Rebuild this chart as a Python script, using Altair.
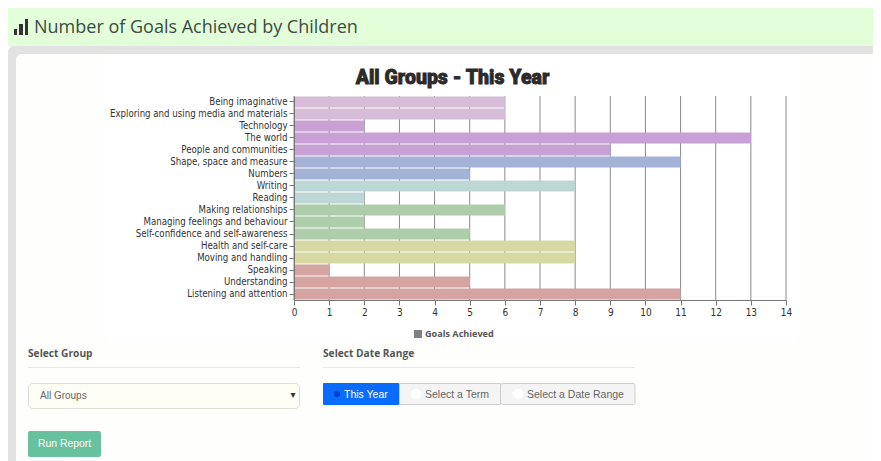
import altair as alt
import pandas as pd

categories = ["Being imaginative", "Exploring and using media and materials", "Technology", "The world",
              "People and communities", "Shape, space and measure", "Numbers", "Writing", "Reading",
              "Making relationships", "Managing feelings and behaviour", "Self-confidence and self-awareness",
              "Health and self-care", "Moving and handling", "Speaking", "Understanding", "Listening and attention"]
values = [6, 6, 2, 13, 9, 11, 5, 8, 2, 6, 2, 5, 8, 8, 1, 5, 11]
bar_colors = ["#d7bdd8", "#d7bdd8", "#c9a0d6", "#c9a0d6", "#c9a0d6", "#a3b3d8", "#a3b3d8", "#bdd7d6", "#bdd7d6",
              "#aecdab", "#aecdab", "#aecdab", "#d8d8a2", "#d8d8a2", "#d6a3a3", "#d6a3a3", "#d6a3a3"]
x_ticks = list(range(15))

PW, PH = 492, 204
OX, OY = 294, 96   # plot origin in window pixels
TOTAL_W, TOTAL_H = 865, 453

df = pd.DataFrame({"cat": categories, "val": values, "col": bar_colors})
one = alt.Data(values=[{"a": 1}])


def rect(x0, y0, x1, y1, fill, stroke=None, r=0, sw=1):
    kw = dict(fill=fill, cornerRadius=r)
    if stroke:
        kw.update(stroke=stroke, strokeWidth=sw)
    return alt.Chart(one).mark_rect(**kw).encode(
        x=alt.value(x0 - OX), x2=alt.value(x1 - OX), y=alt.value(y0 - OY), y2=alt.value(y1 - OY))


def label(x, y, s, size=11, color="#444444", font="Open Sans", weight="normal", align="left", **extra):
    return alt.Chart(one).mark_text(text=s, fontSize=size, color=color, font=font, fontWeight=weight,
                                    align=align, baseline="middle", **extra).encode(
        x=alt.value(x - OX), y=alt.value(y - OY))


def circle(x, y, size, color):
    return alt.Chart(one).mark_point(filled=True, size=size, color=color, opacity=1).encode(
        x=alt.value(x - OX), y=alt.value(y - OY))


chrome = [
    rect(8, 8, 890, 46, "#e2ffd9"),
    rect(8, 46, 890, 470, "#e2e2e2", r=6),
    rect(16, 54, 890, 470, "#feffFc", r=6),
    rect(106, 55, 798, 342, "#ffffff"),
    rect(14, 29, 17, 35, "#333333"),
    rect(19, 24, 23, 35, "#333333"),
    rect(25, 19, 28, 35, "#333333"),
    label(34, 28, "Number of Goals Achieved by Children", size=18, color="#3d4a45"),
    label(452.5, 77.5, "All Groups - This Year", size=19.5, color="#2a2a2a", font="Roboto",
          weight=900, align="center", stroke="#2a2a2a", strokeWidth=0.8),
    rect(414, 330, 422, 338, "#808080"),
    label(425, 334, "Goals Achieved", size=9.1, color="#555555", weight="bold"),
    label(28, 354, "Select Group", size=10.2, color="#555555", weight="bold"),
    rect(28, 367, 300, 368, "#e8e8e8"),
    rect(28.5, 383.5, 299.5, 408.5, "#fffef5", "#dddddd", r=4),
    label(40, 396, "All Groups", size=10, color="#666666", font="Liberation Sans"),
    label(293, 395, "▾", size=10, color="#333333", align="center", font="DejaVu Sans"),
    rect(28, 431, 101, 457, "#66c19c", r=2),
    label(64.5, 444, "Run Report", size=10.4, color="#ffffff", font="Liberation Sans", align="center"),
    label(323, 354, "Select Date Range", size=10.2, color="#555555", weight="bold"),
    rect(323, 367, 635, 368, "#e8e8e8"),
    rect(399.5, 383.5, 500.5, 404.5, "#f4f4f4", "#cccccc"),
    rect(500.5, 383.5, 635, 404.5, "#f4f4f4", "#cccccc", r=2),
    rect(323, 383, 399, 405, "#0a6cff", r=1),
    circle(337, 394, 40, "#0040d0"),
    label(344, 394.5, "This Year", size=10.5, color="#ffffff", font="Liberation Sans"),
    circle(416, 394, 110, "#ffffff"),
    label(425, 394.5, "Select a Term", size=10.5, color="#666666", font="Liberation Sans"),
    circle(518, 394, 110, "#ffffff"),
    label(527, 394.5, "Select a Date Range", size=10.5, color="#666666", font="Liberation Sans"),
]

x_scale = alt.Scale(domain=[0, 14], nice=False)
x_axis = alt.Axis(zindex=1, values=x_ticks, tickSize=5, tickColor="#777777", domainColor="#777777",
                  labelColor="#333333", labelFont="DejaVu Sans Condensed", labelFontSize=10,
                  labelPadding=2, grid=False, format="d", labelFlush=False, labelOverlap=False)

grid = alt.Chart(alt.Data(values=[{"t": t} for t in x_ticks])).mark_rule(color="#8a8a8a", strokeWidth=1).encode(
    x=alt.X("t:Q", scale=x_scale, axis=x_axis, title=None))

bars = alt.Chart(df).mark_bar(stroke=None, opacity=1).encode(
    y=alt.Y("cat:N", sort=categories, title=None,
            scale=alt.Scale(paddingInner=0.09, paddingOuter=0.045),
            axis=alt.Axis(zindex=1, tickSize=5, tickColor="#777777", domainColor="#777777", labelColor="#333333",
                          labelFont="DejaVu Sans Condensed", labelFontSize=9.6, labelPadding=2, grid=False,
                          labelLimit=300)),
    x=alt.X("val:Q", scale=x_scale, title=None, axis=x_axis),
    color=alt.Color("col:N", scale=None, legend=None),
)

chart = alt.layer(*chrome, grid, bars).properties(
    width=PW, height=PH,
    padding={"left": OX - 8, "top": OY - 8, "right": TOTAL_W - (OX - 8) - PW, "bottom": TOTAL_H - (OY - 8) - PH},
    autosize=alt.AutoSizeParams(type="none"),
    background="white",
).configure_view(stroke=None)

chart.save("out.html", embed_options={"renderer": "svg", "actions": False})
